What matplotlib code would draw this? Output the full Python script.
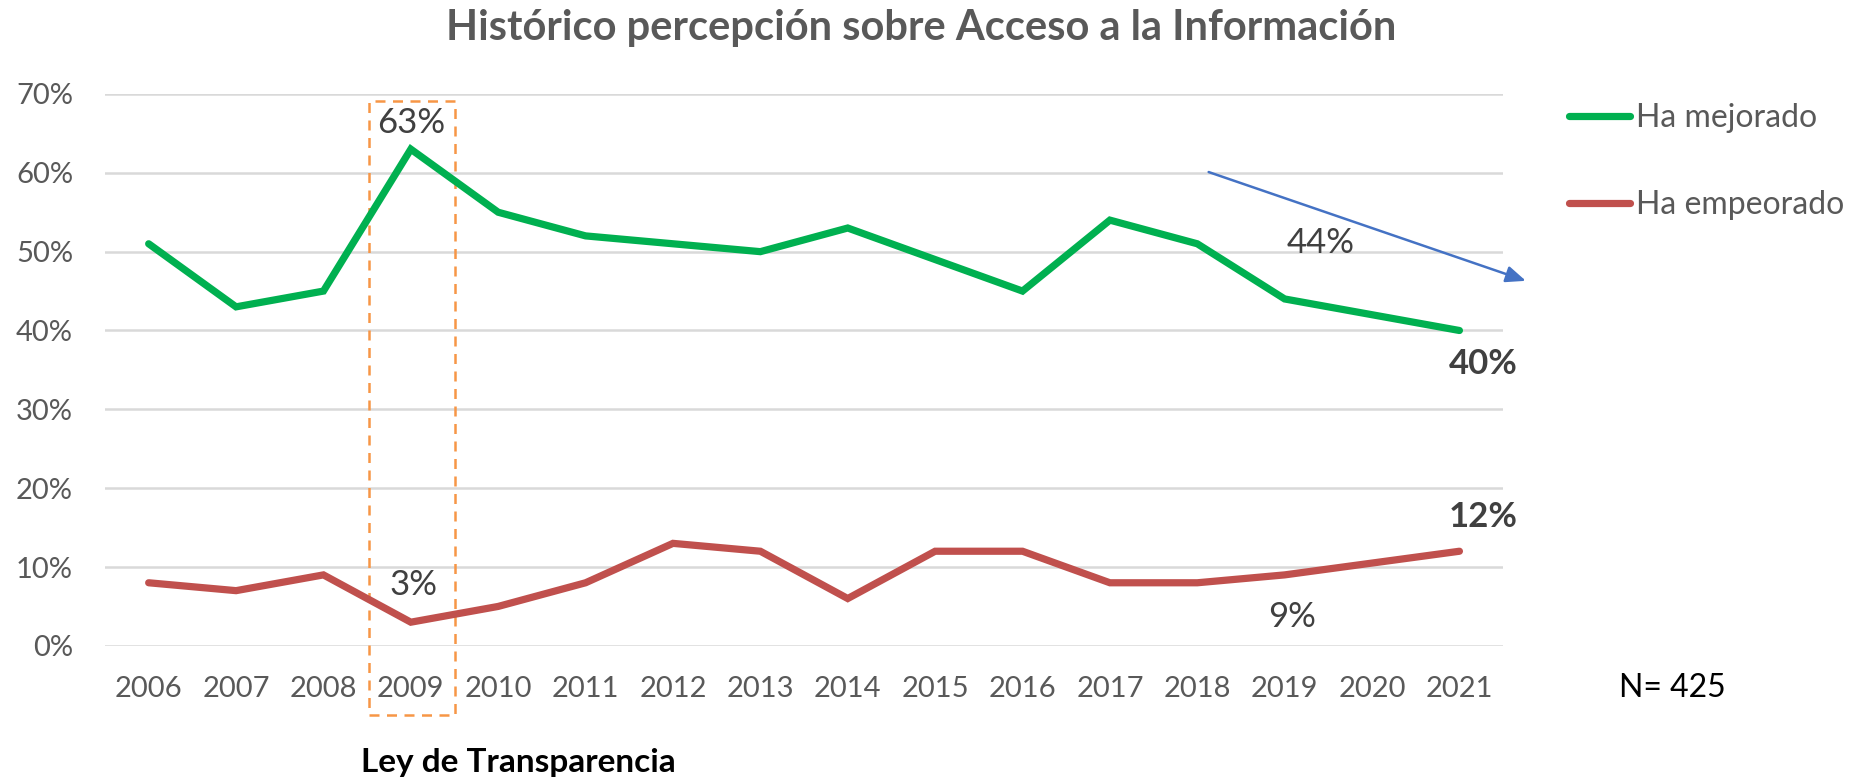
"""Histórico percepción sobre Acceso a la Información -- line chart."""
import matplotlib

matplotlib.use("Agg")
import matplotlib.pyplot as plt
from matplotlib.lines import Line2D
from matplotlib.patches import Rectangle

years = ["2006", "2007", "2008", "2009", "2010", "2011", "2012", "2013",
         "2014", "2015", "2016", "2017", "2018", "2019", "2020", "2021"]
mejorado = [51, 43, 45, 63, 55, 52, 51, 50, 53, 49, 45, 54, 51, 44, 42, 40]
empeorado = [8, 7, 9, 3, 5, 8, 13, 12, 6, 12, 12, 8, 8, 9, 10.5, 12]
y_ticks = [0, 10, 20, 30, 40, 50, 60, 70]

GREEN = "#00B050"
RED = "#C0504D"
ORANGE = "#F79646"
BLUE = "#4472C4"
GRID = "#D9D9D9"
TICK = "#595959"
LABEL = "#404040"

plt.rcParams["font.family"] = ["Lato", "DejaVu Sans"]

fig = plt.figure(figsize=(18.58, 7.80), dpi=100)
ax = fig.add_axes([0.0565, 0.172, 0.7525, 0.7075])

x = list(range(len(years)))
ax.plot(x, mejorado, color=GREEN, lw=5.2, solid_capstyle="round", solid_joinstyle="miter", zorder=3)
ax.plot(x, empeorado, color=RED, lw=5.2, solid_capstyle="round", solid_joinstyle="miter", zorder=3)

ax.set_xlim(-0.5, len(years) - 0.5)
ax.set_ylim(0, 70)
ax.set_yticks(y_ticks)
ax.set_yticklabels([f"{v}%" for v in y_ticks])
ax.set_xticks(x)
ax.set_xticklabels(years)
ax.grid(axis="y", color=GRID, lw=1.8)
ax.set_axisbelow(True)
for s in ax.spines.values():
    s.set_visible(False)
ax.tick_params(axis="both", length=0, labelsize=21, colors=TICK)
ax.tick_params(axis="y", pad=23)
ax.tick_params(axis="x", pad=22)

# highlight box around 2009 (Ley de Transparencia)
box = Rectangle((2.52, -8.75), 0.98, 69.1 + 8.75, fill=False, ec=ORANGE,
                lw=1.8, ls=(0, (4, 3)), clip_on=False, zorder=2)
ax.add_patch(box)
fig.text(0.279, 0.022, "Ley de Transparencia", ha="center", va="center",
         fontsize=24, fontweight="bold", color="black")

# data labels
i09, i19, i21 = years.index("2009"), years.index("2019"), years.index("2021")
lab = dict(textcoords="offset points", ha="center", va="center", fontsize=25, color=LABEL)
ax.annotate(f"{mejorado[i09]}%", (i09, mejorado[i09]), xytext=(0, 19), **lab)
ax.annotate(f"{empeorado[i09]}%", (i09, empeorado[i09]), xytext=(2, 27), **lab)
ax.annotate(f"{mejorado[i19]}%", (i19, mejorado[i19]), xytext=(26, 40), **lab)
ax.annotate(f"{empeorado[i19]}%", (i19, empeorado[i19]), xytext=(5, -30), **lab)
ax.annotate(f"{mejorado[i21]}%", (i21, mejorado[i21]), xytext=(17, -24), fontweight="bold", **lab)
ax.annotate(f"{empeorado[i21]}%", (i21, empeorado[i21]), xytext=(17, 25), fontweight="bold", **lab)

# downward trend arrow
ax.annotate("", xy=(15.76, 46.3), xytext=(12.13, 60.1), annotation_clip=False,
            arrowprops=dict(arrowstyle="-|>,head_length=1.2,head_width=0.5",
                            color=BLUE, lw=1.8, shrinkA=0, shrinkB=0))

fig.suptitle("Histórico percepción sobre Acceso a la Información", x=0.496, y=0.988,
             fontsize=30, fontweight="bold", color=TICK)

handles = [Line2D([], [], color=GREEN, lw=5.2, solid_capstyle="round"),
           Line2D([], [], color=RED, lw=5.2, solid_capstyle="round")]
fig.legend(handles, ["Ha mejorado", "Ha empeorado"], loc="upper left",
           bbox_to_anchor=(0.829, 0.905), frameon=False, fontsize=23,
           labelcolor=TICK, handlelength=1.9, handletextpad=0.2, labelspacing=1.79)

fig.text(0.9, 0.118, "N= 425", ha="center", va="center", fontsize=23, color="black")

fig.savefig("out.png", dpi=100)
